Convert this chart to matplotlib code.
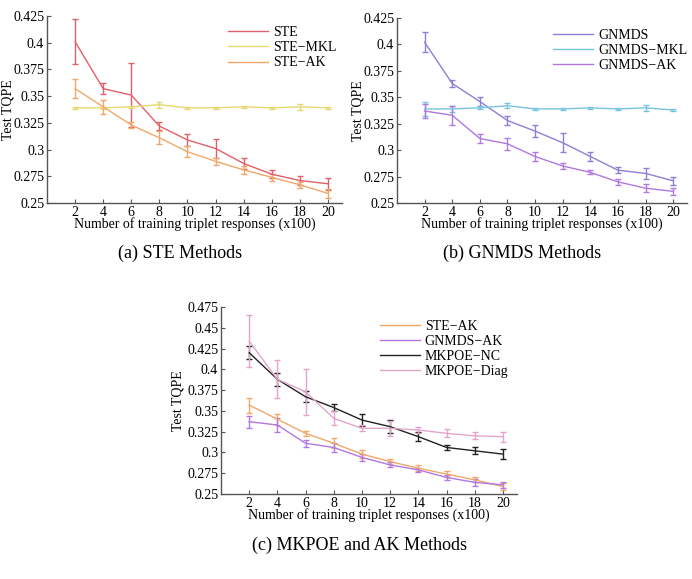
import matplotlib
matplotlib.use("Agg")
import matplotlib.pyplot as plt
from matplotlib.lines import Line2D

plt.rcParams['font.family'] = ['Liberation Serif', 'DejaVu Serif']

x = [2, 4, 6, 8, 10, 12, 14, 16, 18, 20]

ste = [0.401, 0.357, 0.351, 0.322, 0.309, 0.301, 0.287, 0.277, 0.271, 0.268]
ste_err = [0.021, 0.005, 0.030, 0.004, 0.006, 0.009, 0.0055, 0.0035, 0.0045, 0.0055]
ste_mkl = [0.339, 0.339, 0.340, 0.342, 0.339, 0.339, 0.340, 0.339, 0.340, 0.339]
ste_mkl_err = [0.0012, 0.0012, 0.0012, 0.0028, 0.0006, 0.0008, 0.001, 0.0008, 0.0028, 0.0008]
ste_ak = [0.357, 0.340, 0.323, 0.311, 0.298, 0.289, 0.281, 0.274, 0.267, 0.259]
ste_ak_err = [0.009, 0.0065, 0.003, 0.006, 0.005, 0.0035, 0.0035, 0.0035, 0.003, 0.004]

gnmds = [0.402, 0.363, 0.346, 0.328, 0.318, 0.307, 0.294, 0.281, 0.278, 0.271]
gnmds_err = [0.0095, 0.0035, 0.0045, 0.0045, 0.0055, 0.009, 0.004, 0.003, 0.005, 0.004]
gnmds_mkl = [0.339, 0.339, 0.340, 0.342, 0.339, 0.339, 0.340, 0.339, 0.340, 0.338]
gnmds_mkl_err = [0.007, 0.003, 0.0015, 0.0025, 0.0006, 0.0008, 0.001, 0.0008, 0.0028, 0.0008]
gnmds_ak = [0.337, 0.333, 0.311, 0.306, 0.294, 0.285, 0.279, 0.270, 0.264, 0.261]
gnmds_ak_err = [0.007, 0.009, 0.004, 0.0055, 0.0045, 0.003, 0.002, 0.003, 0.004, 0.0035]

mkpoe_nc = [0.420, 0.388, 0.367, 0.354, 0.339, 0.331, 0.319, 0.306, 0.302, 0.298]
mkpoe_nc_err = [0.008, 0.0075, 0.0065, 0.004, 0.007, 0.008, 0.005, 0.0025, 0.004, 0.006]
mkpoe_diag = [0.434, 0.388, 0.373, 0.341, 0.329, 0.329, 0.327, 0.323, 0.320, 0.319]
mkpoe_diag_err = [0.031, 0.023, 0.028, 0.0085, 0.0035, 0.009, 0.004, 0.005, 0.004, 0.006]

xticks = [2, 4, 6, 8, 10, 12, 14, 16, 18, 20]
xlabel = "Number of training triplet responses (x100)"
ylabel = "Test TQPE"

C_STE = '#e0606a'
C_STE_MKL = '#e6d870'
C_STE_AK = '#f0a868'
C_GN = '#8a80d8'
C_GN_MKL = '#78c4e0'
C_GN_AK = '#b078e0'
C_NC = '#222222'
C_DIAG = '#e4a4cc'

W, H = 692, 579
fig = plt.figure(figsize=(W / 100, H / 100), dpi=100)


def add_ax(l, t, r, b):
    return fig.add_axes([l / W, 1 - b / H, (r - l) / W, (b - t) / H])


def style(ax, ylim, yticks, yticklabels, ylab_px):
    ax.set_xlim(0, 21)
    ax.set_ylim(*ylim)
    ax.set_xticks(xticks)
    ax.set_yticks(yticks)
    ax.set_yticklabels(yticklabels)
    for s in ['top', 'right']:
        ax.spines[s].set_visible(False)
    for s in ['left', 'bottom']:
        ax.spines[s].set_color('#555555')
        ax.spines[s].set_linewidth(1.0)
    ax.tick_params(direction='in', length=3, labelsize=10, pad=2, color='#555555')
    ax.set_xlabel(xlabel, fontsize=10, labelpad=-1)
    ax.set_ylabel(ylabel, fontsize=10)
    bb = ax.get_position()
    xa = (ylab_px / W - bb.x0) / bb.width
    ax.yaxis.set_label_coords(xa, 0.5)


def series(ax, y, e, c):
    ax.errorbar(x, y, yerr=e, color=c, lw=1.0, elinewidth=1.0, capsize=2.5,
                capthick=1.0)


def legend(ax, items, anchor):
    handles = [Line2D([], [], color=c, lw=1.0) for c, _ in items]
    labels = [l for _, l in items]
    ax.legend(handles, labels, loc='upper right', bbox_to_anchor=anchor,
              frameon=False, fontsize=10, handlelength=2.9, handletextpad=0.35,
              labelspacing=0.15, borderaxespad=0.0)


yt1 = [0.25, 0.275, 0.3, 0.325, 0.35, 0.375, 0.4, 0.425]
yl1 = ['0.25', '0.275', '0.3', '0.325', '0.35', '0.375', '0.4', '0.425']

# (a)
ax1 = add_ax(47, 16, 342, 203)
series(ax1, ste, ste_err, C_STE)
series(ax1, ste_mkl, ste_mkl_err, C_STE_MKL)
series(ax1, ste_ak, ste_ak_err, C_STE_AK)
style(ax1, (0.25, 0.425), yt1, yl1, 15)
legend(ax1, [(C_STE, 'STE'), (C_STE_MKL, 'STE\u2212MKL'), (C_STE_AK, 'STE\u2212AK')], (1.0, 0.975))
fig.text(180 / W, 1 - 253 / H, '(a) STE Methods', ha='center', va='center', fontsize=13)

# (b)
ax2 = add_ax(397, 18, 687, 203)
series(ax2, gnmds, gnmds_err, C_GN)
series(ax2, gnmds_mkl, gnmds_mkl_err, C_GN_MKL)
series(ax2, gnmds_ak, gnmds_ak_err, C_GN_AK)
style(ax2, (0.25, 0.425), yt1, yl1, 364)
legend(ax2, [(C_GN, 'GNMDS'), (C_GN_MKL, 'GNMDS\u2212MKL'), (C_GN_AK, 'GNMDS\u2212AK')], (1.02, 0.97))
fig.text(522 / W, 1 - 253 / H, '(b) GNMDS Methods', ha='center', va='center', fontsize=13)

# (c)
ax3 = add_ax(221, 307, 517, 494)
series(ax3, ste_ak, ste_ak_err, C_STE_AK)
series(ax3, gnmds_ak, gnmds_ak_err, C_GN_AK)
series(ax3, mkpoe_nc, mkpoe_nc_err, C_NC)
series(ax3, mkpoe_diag, mkpoe_diag_err, C_DIAG)
yt3 = [0.25, 0.275, 0.3, 0.325, 0.35, 0.375, 0.4, 0.425, 0.45, 0.475]
yl3 = ['0.25', '0.275', '0.3', '0.325', '0.35', '0.375', '0.4', '0.425', '0.45', '0.475']
style(ax3, (0.25, 0.475), yt3, yl3, 184)
legend(ax3, [(C_STE_AK, 'STE\u2212AK'), (C_GN_AK, 'GNMDS\u2212AK'), (C_NC, 'MKPOE\u2212NC'),
             (C_DIAG, 'MKPOE\u2212Diag')], (0.99, 0.96))
fig.text(360 / W, 1 - 545 / H, '(c) MKPOE and AK Methods', ha='center', va='center', fontsize=13)

fig.savefig('out.png', dpi=100)
